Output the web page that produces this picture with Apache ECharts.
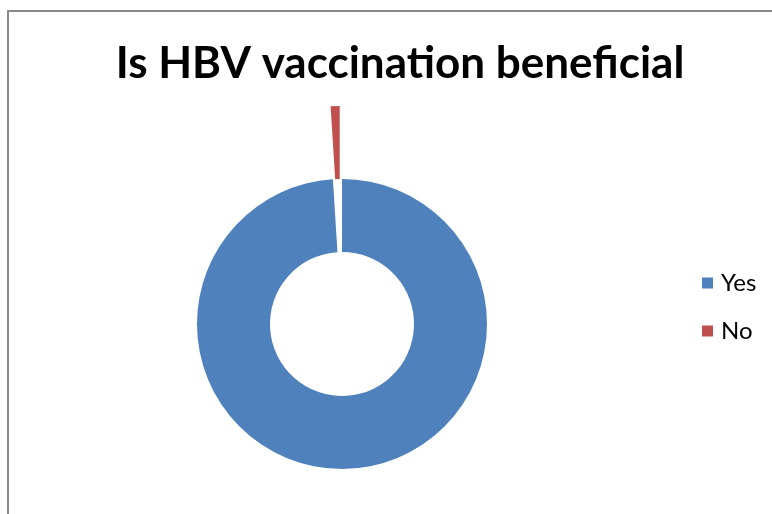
<!DOCTYPE html>
<html>
<head>
<meta charset="utf-8">
<script src="https://cdn.jsdelivr.net/npm/echarts@6/dist/echarts.min.js"></script>
<style>
  html, body { margin: 0; padding: 0; background: #fff; }
  #chart { width: 772px; height: 514px; }
</style>
</head>
<body>
<div id="chart"></div>
<script>
// Survey answers to "Is HBV vaccination beneficial"
const categories = ['Yes', 'No'];
const shares = [99, 1];
const colors = ['#4f81bd', '#c0504d'];

const chart = echarts.init(document.getElementById('chart'), null, { renderer: 'canvas' });

const pieData = categories.map((name, i) => ({
  name,
  value: shares[i],
  itemStyle: { color: colors[i] },
  selected: name === 'No'
}));

chart.setOption({
  animation: false,
  backgroundColor: '#ffffff',
  title: {
    text: 'Is HBV vaccination beneficial',
    left: 395,
    textAlign: 'center',
    top: 37,
    textStyle: {
      fontFamily: 'Lato',
      fontWeight: 'bold',
      fontSize: 44,
      color: '#000000'
    }
  },
  legend: {
    orient: 'vertical',
    left: 697,
    top: 266,
    itemWidth: 11,
    itemHeight: 11,
    itemGap: 24,
    icon: 'rect',
    selectedMode: false,
    data: categories,
    textStyle: { fontFamily: 'Lato', fontSize: 24, lineHeight: 24, color: '#000000', padding: [0, 0, 0, 3] }
  },
  graphic: [{
    type: 'polyline',
    shape: { points: [[8, 514], [8, 11], [772, 11]] },
    style: { stroke: '#888888', lineWidth: 2, fill: null },
    silent: true
  }],
  series: [{
    type: 'pie',
    center: [342, 324],
    radius: [72, 145],
    startAngle: 90,
    clockwise: true,
    selectedMode: 'single',
    selectedOffset: 73,
    label: { show: false },
    labelLine: { show: false },
    emphasis: { disabled: true },
    select: { itemStyle: { color: colors[1] } },
    itemStyle: { borderWidth: 0 },
    data: pieData
  }]
});
</script>
</body>
</html>
